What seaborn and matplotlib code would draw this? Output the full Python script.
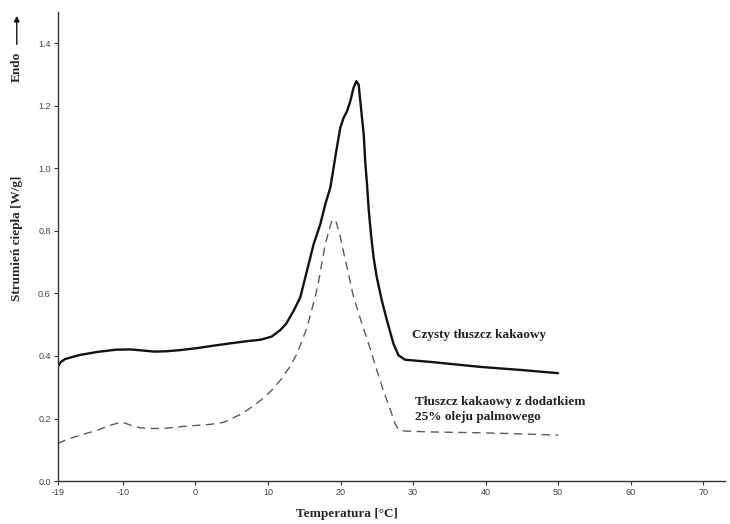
import numpy as np
import pandas as pd
import matplotlib
matplotlib.use("Agg")
import matplotlib.pyplot as plt
import seaborn as sns

# DSC heat-flow curves: temperature [°C] vs heat flow [W/g]
pure_temp = [-19.0, -18.6, -18.0, -16.0, -13.5, -11.0, -9.0, -7.5, -5.7, -4.0,
             -2.0, 0.5, 2.5, 5.0, 7.0, 9.0, 10.5, 11.7, 12.5, 13.5,
             14.46, 15.38, 16.3, 17.22, 17.91, 18.6, 19.05, 19.42, 19.97, 20.43,
             20.9, 21.35, 21.8, 22.18, 22.5, 22.73, 22.96, 23.2, 23.4, 23.65,
             23.9, 24.2, 24.56, 25.0, 25.7, 26.4, 27.3, 28.0, 28.9, 32.4,
             39.3, 45.0, 50.0]
pure_flow = [0.365, 0.380, 0.390, 0.403, 0.413, 0.420, 0.421, 0.418, 0.414, 0.415,
             0.419, 0.426, 0.433, 0.441, 0.447, 0.452, 0.462, 0.483, 0.503, 0.543,
             0.588, 0.673, 0.758, 0.822, 0.886, 0.939, 1.003, 1.056, 1.130, 1.162,
             1.183, 1.215, 1.258, 1.279, 1.268, 1.215, 1.162, 1.109, 1.024, 0.950,
             0.864, 0.790, 0.715, 0.652, 0.577, 0.514, 0.439, 0.402, 0.388, 0.381,
             0.365, 0.355, 0.345]

blend_temp = [-19.0, -17.5, -15.8, -13.5, -11.5, -10.6, -9.8, -9.0, -7.6, -6.0,
              -4.4, -2.0, 0.2, 2.0, 3.9, 6.2, 7.1, 9.0, 10.5, 11.7,
              13.0, 14.0, 15.4, 16.5, 17.0, 17.4, 17.9, 18.4, 18.73, 19.05,
              19.42, 20.0, 20.43, 20.9, 21.35, 21.8, 23.0, 24.0, 25.0, 25.9,
              26.9, 27.5, 28.0, 28.8, 32.4, 40.0, 50.0]
blend_flow = [0.120, 0.135, 0.147, 0.163, 0.180, 0.186, 0.186, 0.179, 0.170, 0.168,
              0.168, 0.174, 0.178, 0.181, 0.188, 0.213, 0.226, 0.258, 0.290, 0.322,
              0.365, 0.407, 0.492, 0.588, 0.641, 0.694, 0.758, 0.800, 0.827, 0.838,
              0.827, 0.779, 0.731, 0.684, 0.636, 0.588, 0.500, 0.430, 0.355, 0.290,
              0.226, 0.184, 0.165, 0.160, 0.157, 0.154, 0.147]

x_ticks = [-19, -10, 0, 10, 20, 30, 40, 50, 60, 70]
y_ticks = [0.0, 0.2, 0.4, 0.6, 0.8, 1.0, 1.2, 1.4]

label_pure = "Czysty tłuszcz kakaowy"
label_blend = "Tłuszcz kakaowy z dodatkiem\n25% oleju palmowego"

sns.set_style("ticks")
plt.rcParams["font.family"] = ["Liberation Sans", "DejaVu Sans"]

fig = plt.figure(figsize=(7.30, 5.24), dpi=100)
ax = fig.add_axes([0.079, 0.082, 0.914, 0.895])

df_pure = pd.DataFrame({"T": pure_temp, "Q": pure_flow})
df_blend = pd.DataFrame({"T": blend_temp, "Q": blend_flow})

sns.lineplot(data=df_pure, x="T", y="Q", ax=ax, color="#111111", linewidth=1.7,
             sort=False)
sns.lineplot(data=df_blend, x="T", y="Q", ax=ax, color="#5a5a5a", linewidth=1.0,
             linestyle=(0, (6, 4)), sort=False)

ax.set_xlim(-19, 73)
ax.set_ylim(0, 1.5)
ax.set_xticks(x_ticks)
ax.set_xticklabels([str(t) for t in x_ticks])
ax.set_yticks(y_ticks)
ax.set_yticklabels([f"{t:.1f}" for t in y_ticks])
ax.tick_params(axis="both", labelsize=6.5, labelcolor="#444444", length=3,
               width=0.8, color="#333333", pad=2)

sns.despine(ax=ax)
for side in ("left", "bottom"):
    ax.spines[side].set_color("#333333")
    ax.spines[side].set_linewidth(1.0)

serif = ["Liberation Serif", "DejaVu Serif"]
ax.set_xlabel("")
ax.set_ylabel("")
fig.text(0.475, 0.02, "Temperatura [°C]", fontsize=9.5, fontweight="bold",
         family=serif, ha="center", va="center")
fig.text(0.023, 0.545, "Strumień ciepła [W/g]", rotation=90, fontsize=9.5,
         fontweight="bold", family=serif, ha="center", va="center")
fig.text(0.023, 0.872, "Endo", rotation=90, fontsize=9.5, fontweight="bold",
         family=serif, ha="center", va="center")
fig.add_artist(matplotlib.patches.FancyArrowPatch(
    (0.023, 0.91), (0.023, 0.975), transform=fig.transFigure,
    arrowstyle="-|>", mutation_scale=8, color="#111111", linewidth=1.0))

ax.text(29.8, 0.466, label_pure, fontsize=9.5, fontweight="bold", family=serif,
        ha="left", va="center", color="#222222")
ax.text(30.3, 0.272, label_blend, fontsize=9.5, fontweight="bold", family=serif,
        ha="left", va="top", color="#222222", linespacing=1.35)

fig.savefig("out.png", dpi=100)
